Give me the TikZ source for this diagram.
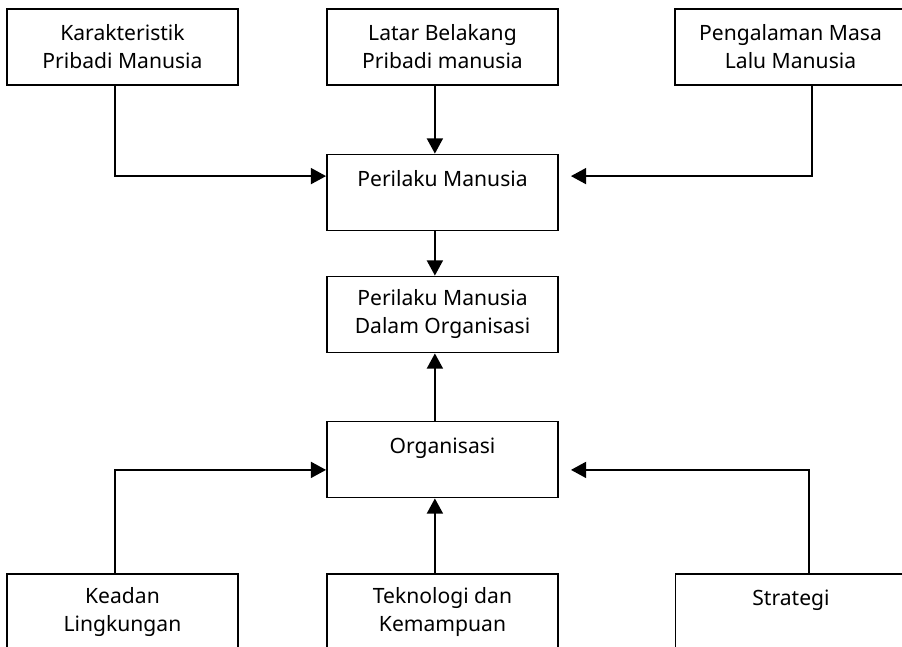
\documentclass[tikz,border=0pt]{standalone}
\usepackage{fontspec}
\setmainfont{Noto Sans}
\usepackage{tikz}
\usetikzlibrary{arrows.meta,calc}

\tikzset{
  kotak/.style={draw,line width=1.3pt,rectangle,minimum width=5.775cm,minimum height=1.9cm,
    align=center,font=\fontsize{15}{19.9}\selectfont},
  panah/.style={line width=1.3pt,-{Triangle[length=0.38cm,width=0.4cm]}},
  garis/.style={line width=1.3pt}
}

\begin{document}
\begin{tikzpicture}[x=0.025cm,y=-0.025cm]
            \clip (0,0) rectangle (902,646); %batas gambar
            %kotak baris atas
            \node[kotak] (karakter) at (122.5,47) {Karakteristik\\Pribadi Manusia};
            \node[kotak] (latar) at (442.5,47) {Latar Belakang\\Pribadi manusia};
            \node[kotak] (pengalaman) at (790.5,47) {Pengalaman Masa\\Lalu Manusia};
            %kotak tengah
            \node[kotak] (perilaku) at (442.5,192.5) {Perilaku Manusia\\\mbox{}};
            \node[kotak] (dalamorg) at (442.5,314.5) {Perilaku Manusia\\Dalam Organisasi};
            \node[kotak] (organisasi) at (442.5,459.5) {Organisasi\\\mbox{}};
            %kotak baris bawah
            \node[kotak] (keadaan) at (122.5,612) {Keadan\\Lingkungan};
            \node[kotak] (teknologi) at (442.5,612) {Teknologi dan\\Kemampuan};
            \node[kotak] (strategi) at (791,612) {Strategi\\\mbox{}};
            %panah ke Perilaku Manusia
            \draw[panah] ([xshift=-0.19cm]karakter.south) |- ([yshift=0.41cm]perilaku.west);
            \draw[panah] ([xshift=-0.19cm]latar.south) -- ([xshift=-0.19cm]perilaku.north);
            \draw[panah] ([xshift=0.54cm]pengalaman.south) |- ([xshift=0.3cm,yshift=0.41cm]perilaku.east);
            %panah ke Perilaku Manusia Dalam Organisasi
            \draw[panah] ([xshift=-0.19cm]perilaku.south) -- ([xshift=-0.19cm]dalamorg.north);
            \draw[panah] ([xshift=-0.19cm]organisasi.north) -- ([xshift=-0.19cm]dalamorg.south);
            %panah ke Organisasi
            \draw[panah] ([xshift=-0.19cm]keadaan.north) |- ([yshift=-0.26cm]organisasi.west);
            \draw[panah] ([xshift=-0.19cm]teknologi.north) -- ([xshift=-0.19cm]organisasi.south);
            \draw[panah] ([xshift=0.45cm]strategi.north) |- ([xshift=0.3cm,yshift=-0.26cm]organisasi.east);
          \end{tikzpicture}
\end{document}
